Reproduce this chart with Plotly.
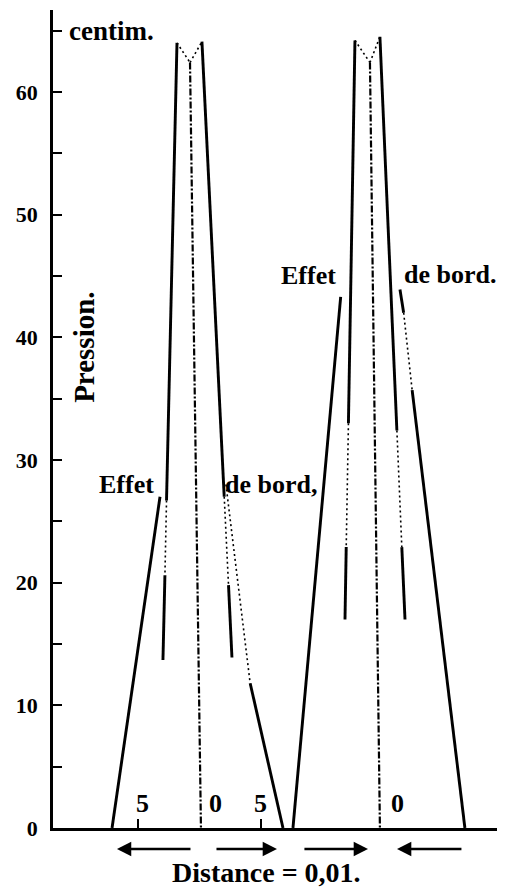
import plotly.graph_objects as go

# ---- Data: distance (scale units, 0 = centre of each plate) and pressure (centim.) ----
# Left figure (A)
A_outer_left_x = [-7.15, -3.25]
A_outer_left_y = [0.0, 27.0]
A_inner_left_x = [-1.87, -2.72, -2.85, -3.01]
A_inner_left_y = [64.0, 26.7, 20.6, 13.7]
A_crest_x = [-1.87, -0.81, 0.16]
A_crest_y = [64.0, 62.4, 64.1]
A_center_x = [-0.81, 0.08]
A_center_y = [62.4, 0.0]
A_inner_right_x = [0.16, 1.97, 2.32, 2.60]
A_inner_right_y = [64.1, 27.0, 19.8, 13.9]
A_outer_right_x = [2.11, 4.08, 6.75]
A_outer_right_y = [28.0, 11.8, 0.0]

# Right figure (B)
B_outer_left_x = [7.56, 11.44]
B_outer_left_y = [0.0, 43.3]
B_inner_left_x = [12.60, 12.07, 11.89, 11.79]
B_inner_left_y = [64.2, 33.0, 22.9, 17.0]
B_crest_x = [12.60, 13.82, 14.63]
B_crest_y = [64.2, 62.4, 64.5]
B_center_x = [13.82, 14.63]
B_center_y = [62.4, 0.0]
B_inner_right_x = [14.63, 16.01, 16.41, 16.67]
B_inner_right_y = [64.5, 32.4, 22.9, 17.0]
B_outer_right_x = [16.26, 16.56, 17.25, 21.54]
B_outer_right_y = [43.9, 42.0, 35.7, 0.0]

# y-axis ticks
y_tick_vals = [0, 10, 20, 30, 40, 50, 60]
y_tick_text = ["0", "10", "20", "30", "40", "50", "60"]
y_minor_vals = [5, 15, 25, 35, 45, 55, 65]
y_unit_label = "centim."
y_unit_value = 65
y_title = "Pression."

# distance marks along the base line
x_mark_vals = [-5, 0, 5, 16]
x_mark_text = ["5", "0", "5", "0"]
x_minor_ticks = [-5, 5]

# direction arrows under the base line (tail, head)
arrow_tails = [-0.65, 1.22, 8.37, 21.38]
arrow_heads = [-6.75, 6.26, 13.66, 16.02]

x_title = "Distance = 0,01."
effect_words = ["Effet", "de bord,", "Effet", "de bord."]

# ---- styles (kept apart from data) ----
curves = [
    (A_outer_left_x, A_outer_left_y, ["solid"]),
    (A_inner_left_x, A_inner_left_y, ["solid", "dot", "solid"]),
    (A_crest_x, A_crest_y, ["dot", "dot"]),
    (A_center_x, A_center_y, ["dash"]),
    (A_inner_right_x, A_inner_right_y, ["solid", "dot", "solid"]),
    (A_outer_right_x, A_outer_right_y, ["dot", "solid"]),
    (B_outer_left_x, B_outer_left_y, ["solid"]),
    (B_inner_left_x, B_inner_left_y, ["solid", "dot", "solid"]),
    (B_crest_x, B_crest_y, ["dot", "dot"]),
    (B_center_x, B_center_y, ["dash"]),
    (B_inner_right_x, B_inner_right_y, ["solid", "dot", "solid"]),
    (B_outer_right_x, B_outer_right_y, ["solid", "dot", "solid"]),
]
line_styles = {
    "solid": dict(color="black", width=2.9, dash="solid"),
    "dot": dict(color="black", width=1.6, dash="2px,3px"),
    "dash": dict(color="black", width=2.2, dash="7px,2px,2px,2px"),
}

FONT = "Liberation Serif"

buckets = {k: ([], []) for k in line_styles}
for xs, ys, segs in curves:
    for i, s in enumerate(segs):
        bx, by = buckets[s]
        bx += [xs[i], xs[i + 1], None]
        by += [ys[i], ys[i + 1], None]

fig = go.Figure()
for name, (bx, by) in buckets.items():
    fig.add_trace(go.Scatter(x=bx, y=by, mode="lines", line=line_styles[name],
                             hoverinfo="skip", showlegend=False, connectgaps=False))

annotations = []
# unit label at top of y axis
annotations.append(dict(x=-10.85, y=y_unit_value, xref="x", yref="y", text="<b>" + y_unit_label + "</b>",
                        showarrow=False, xanchor="left", yanchor="middle",
                        font=dict(family=FONT, size=27, color="black")))
# y title
annotations.append(dict(x=-9.45, y=39.2, xref="x", yref="y", text="<b>" + y_title + "</b>",
                        showarrow=False, textangle=-90, xanchor="center", yanchor="middle",
                        font=dict(family=FONT, size=29, color="black")))
# edge effect words
word_pos = [(-6.0, 28.0, "center"), (1.85, 28.0, "left"), (8.86, 45.0, "center"), (16.45, 45.1, "left")]
for (wx, wy, anc), w in zip(word_pos, effect_words):
    annotations.append(dict(x=wx, y=wy, xref="x", yref="y", text="<b>" + w + "</b>", showarrow=False,
                            xanchor=anc, yanchor="middle", font=dict(family=FONT, size=26, color="black")))
# distance marks
mark_offsets = [0.35, 1.3, -0.05, 0.05]
for v, t, o in zip(x_mark_vals, x_mark_text, mark_offsets):
    annotations.append(dict(x=v + o, y=2.0, xref="x", yref="y", text="<b>" + t + "</b>", showarrow=False,
                            xanchor="center", yanchor="middle", font=dict(family=FONT, size=26, color="black")))
# arrows
for t, h in zip(arrow_tails, arrow_heads):
    annotations.append(dict(x=h, y=-0.0257, xref="x", yref="paper", ax=t, ay=0, axref="x", ayref="pixel",
                            text="", showarrow=True, arrowhead=2, arrowsize=1.1, arrowwidth=2.6,
                            arrowcolor="black"))
# x title
annotations.append(dict(x=5.37, y=-0.054, xref="x", yref="paper", text="<b>" + x_title + "</b>",
                        showarrow=False, xanchor="center", yanchor="middle",
                        font=dict(family=FONT, size=28, color="black")))

# The page body carries an 8px default margin; the figure is sized so the plot sits where it should.
fig.update_layout(
    width=497, height=886,
    margin=dict(l=45, r=0, t=2, b=66, autoexpand=False),
    paper_bgcolor="white", plot_bgcolor="white",
    showlegend=False,
    annotations=annotations,
    xaxis=dict(range=[-11.95, 24.8], showgrid=False, zeroline=False, showline=True,
               linecolor="black", linewidth=2.6, ticks="inside", ticklen=9, tickwidth=2,
               tickcolor="black", tickvals=x_minor_ticks, showticklabels=False, fixedrange=True,
               automargin=False),
    yaxis=dict(range=[0, 66.68], showgrid=False, zeroline=False, showline=True,
               linecolor="black", linewidth=2.6, ticks="inside", ticklen=9, tickwidth=2.2,
               tickcolor="black", tickvals=y_tick_vals, ticktext=y_tick_text,
               tickfont=dict(family=FONT, size=22, color="black", weight="bold"),
               ticklabelstandoff=8, automargin=False,
               minor=dict(tickvals=y_minor_vals, ticks="inside", ticklen=9,
                          tickwidth=2.2, tickcolor="black", showgrid=False),
               fixedrange=True),
)

fig.write_html("out.html")
